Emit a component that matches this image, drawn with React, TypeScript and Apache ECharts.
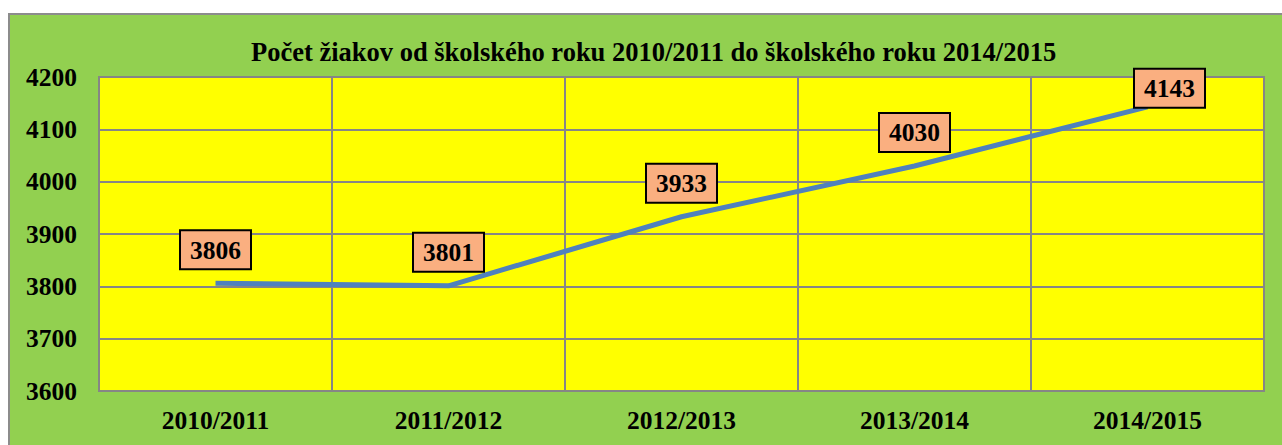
import React, { useEffect, useRef } from "react";
import * as echarts from "echarts";

const TITLE = "Počet žiakov od školského roku 2010/2011 do školského roku 2014/2015";
const categories = ["2010/2011", "2011/2012", "2012/2013", "2013/2014", "2014/2015"];
const values = [3806, 3801, 3933, 4030, 4143];
const yMin = 3600;
const yMax = 4200;
const yStep = 100;

const FONT = "'Liberation Serif', 'Times New Roman', serif";

export default function App() {
  const ref = useRef<HTMLDivElement>(null);
  useEffect(() => {
    if (!ref.current) return;
    const chart = echarts.init(ref.current, null, { renderer: "svg" });
    const lastIndex = values.length - 1;
    chart.setOption({
      animation: false,
      backgroundColor: "#92D050",
      title: {
        text: TITLE,
        left: 236,
        top: 18,
        textStyle: { fontFamily: FONT, fontWeight: "bold", fontSize: 26.5, color: "#000" },
      },
      grid: {
        left: 89,
        right: 18,
        top: 62,
        bottom: 54,
        show: true,
        backgroundColor: "#FFFF00",
        borderColor: "#868686",
        borderWidth: 2,
      },
      xAxis: {
        type: "category",
        data: categories,
        boundaryGap: true,
        axisLine: { show: true, lineStyle: { color: "#868686", width: 2 } },
        axisTick: { show: false },
        splitLine: { show: true, lineStyle: { color: "#868686", width: 2 } },
        axisLabel: {
          fontFamily: FONT,
          fontWeight: "bold",
          fontSize: 25.5,
          color: "#000",
          margin: 16,
        },
      },
      yAxis: {
        type: "value",
        min: yMin,
        max: yMax,
        interval: yStep,
        axisLine: { show: true, lineStyle: { color: "#868686", width: 2 } },
        axisTick: { show: false },
        splitLine: { show: true, lineStyle: { color: "#868686", width: 2 } },
        axisLabel: {
          fontFamily: FONT,
          fontWeight: "bold",
          fontSize: 25.5,
          color: "#000",
          margin: 22,
          formatter: (v: number) => String(v),
        },
      },
      series: [
        {
          type: "line",
          data: values,
          symbol: "circle",
          symbolSize: 2,
          showSymbol: true,
          itemStyle: { color: "rgba(0,0,0,0)", borderWidth: 0 },
          lineStyle: { color: "#4F81BD", width: 5 },
          labelLayout: (params: any) =>
            params.dataIndex === lastIndex
              ? { dx: 22, dy: 15, hideOverlap: false }
              : { hideOverlap: false },
          label: {
            show: true,
            position: "top",
            distance: 14,
            fontFamily: FONT,
            fontWeight: "bold",
            fontSize: 25.5,
            color: "#000",
            opacity: 1,
            backgroundColor: "#FAAF80",
            borderColor: "#000",
            borderWidth: 2,
            padding: [6, 9, 5, 9],
            lineHeight: 26,
          },
        },
      ],
    });
    return () => chart.dispose();
  }, []);
  return (
    <div
      style={{
        position: "fixed",
        left: 8,
        top: 13,
        width: 1274,
        height: 432,
        borderTop: "2px solid #8c8c8c",
        borderLeft: "2px solid #8c8c8c",
        boxSizing: "border-box",
        background: "#92D050",
      }}
    >
      <div ref={ref} style={{ width: 1272, height: 430 }} />
    </div>
  );
}
